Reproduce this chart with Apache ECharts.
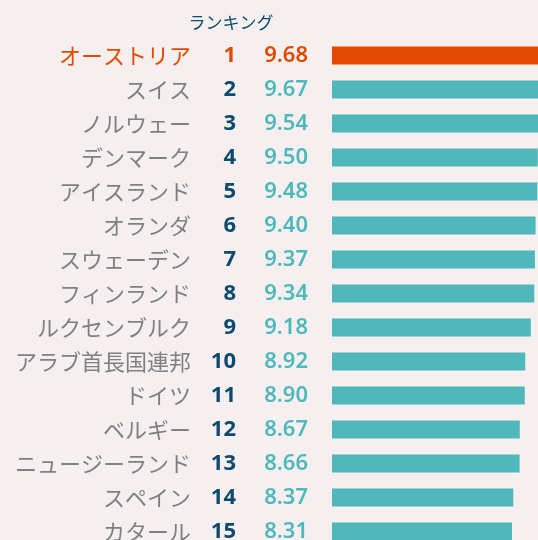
<!DOCTYPE html>
<html><head><meta charset="utf-8">
<script src="https://cdn.jsdelivr.net/npm/echarts@6/dist/echarts.min.js"></script>
<style>html,body{margin:0;padding:0;background:#f5eff0}#c{width:538px;height:540px}</style>
</head><body><div id="c"></div>
<script>
const titleText = 'ランキング';
const countries = ['オーストリア','スイス','ノルウェー','デンマーク','アイスランド','オランダ','スウェーデン','フィンランド','ルクセンブルク','アラブ首長国連邦','ドイツ','ベルギー','ニュージーランド','スペイン','カタール'];
const ranks = [1,2,3,4,5,6,7,8,9,10,11,12,13,14,15];
const scores = [9.68,9.67,9.54,9.50,9.48,9.40,9.37,9.34,9.18,8.92,8.90,8.67,8.66,8.37,8.31];

const ORANGE = '#e34a00', TEAL = '#4fb8bb', NAVY = '#0d4a6e', GRAY = '#808080';
const NUMF = '"Noto Sans", "Noto Sans CJK JP", sans-serif';
const JPF = '"Noto Sans CJK JP", "Noto Sans", sans-serif';

function hlFmt(v, i) { return i === 0 ? '{h|' + v + '}' : '{n|' + v + '}'; }
function catAxis(data, margin, color, font, weight, size) {
  return {
    type: 'category', inverse: true, position: 'left', data: data,
    axisLine: {show: false}, axisTick: {show: false}, splitLine: {show: false},
    axisLabel: {
      interval: 0, margin: margin, formatter: hlFmt,
      rich: {
        h: {color: ORANGE, fontFamily: font, fontWeight: weight, fontSize: size},
        n: {color: color, fontFamily: font, fontWeight: weight, fontSize: size}
      }
    }
  };
}

const chart = echarts.init(document.getElementById('c'));
chart.setOption({
  backgroundColor: '#f5eff0',
  animation: false,
  graphic: [{
    type: 'text', x: 231, y: 23,
    style: {text: titleText, textAlign: 'center', textVerticalAlign: 'middle', fontSize: 17, fill: NAVY, fontFamily: JPF}
  }],
  grid: {left: 332, top: 38.4, width: 216.6, height: 510, containLabel: false, outerBoundsMode: 'none'},
  xAxis: {type: 'value', min: 0, max: 10, show: false},
  yAxis: [
    catAxis(countries, 141, GRAY, JPF, 'normal', 22),
    catAxis(ranks.map(String), 96, NAVY, NUMF, 'bold', 22),
    catAxis(scores.map(v => v.toFixed(2)), 24, TEAL, NUMF, '600', 22)
  ],
  series: [{
    type: 'bar', yAxisIndex: 0, barWidth: 18, silent: true,
    data: scores.map((v, i) => ({value: v, itemStyle: {color: i === 0 ? ORANGE : TEAL}}))
  }]
});
</script>
</body></html>
